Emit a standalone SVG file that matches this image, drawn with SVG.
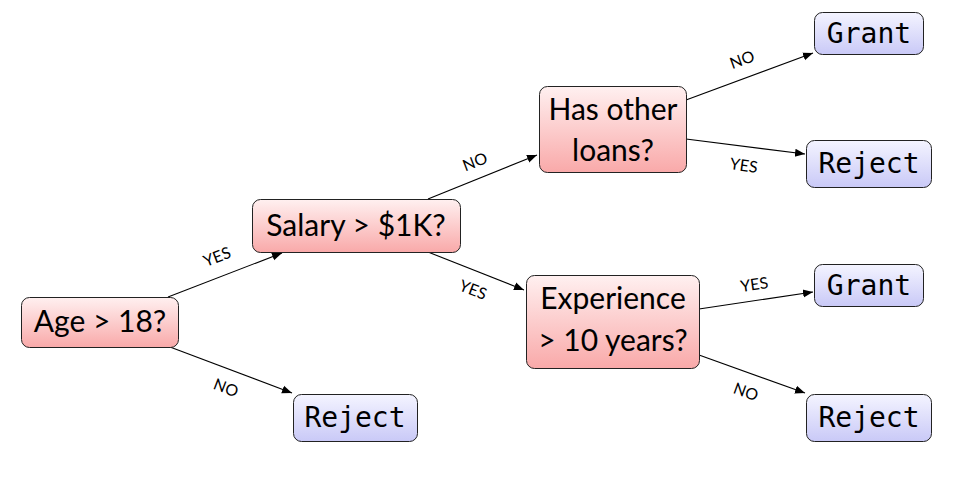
<svg xmlns="http://www.w3.org/2000/svg" width="970" height="480" viewBox="0 0 970 480">
<defs>
<linearGradient id="gRed" x1="0" y1="0" x2="0" y2="1"><stop offset="0" stop-color="#fff0f0"/><stop offset="1" stop-color="#f9a9a9"/></linearGradient>
<linearGradient id="gBlue" x1="0" y1="0" x2="0" y2="1"><stop offset="0" stop-color="#f4f4ff"/><stop offset="1" stop-color="#c9c9f7"/></linearGradient>
<marker id="arr" viewBox="0 0 10 10" refX="10" refY="5" markerWidth="10" markerHeight="10" markerUnits="userSpaceOnUse" orient="auto"><path d="M0,1 L10,5 L0,9 z" fill="#000"/></marker>
<style>
.q rect{fill:url(#gRed);stroke:#222;stroke-width:1}
.a rect{fill:url(#gBlue);stroke:#222;stroke-width:1}
.q text{font-family:Lato,"Open Sans",sans-serif;font-size:30px;fill:#000;text-anchor:middle}
.a text{font-family:"DejaVu Sans Mono","Liberation Mono",monospace;font-size:28px;fill:#000;text-anchor:middle}
#edges line{stroke:#000;stroke-width:1.1;marker-end:url(#arr)}
#edges text{font-family:Lato,"Open Sans",sans-serif;font-size:16px;fill:#000;text-anchor:middle}
</style>
</defs>
<rect width="970" height="480" fill="#fff"/>
<g id="edges">
<line x1="168" y1="297" x2="282" y2="253"/>
<line x1="170" y1="347" x2="292" y2="393"/>
<line x1="428" y1="199" x2="537" y2="155"/>
<line x1="428" y1="252" x2="524" y2="290"/>
<line x1="686" y1="100" x2="813" y2="53"/>
<line x1="686" y1="139" x2="805" y2="154"/>
<line x1="699" y1="309" x2="813" y2="292"/>
<line x1="699" y1="355" x2="805" y2="393"/>
<text transform="translate(219,262) rotate(-21)">YES</text>
<text transform="translate(224,393) rotate(21)">NO</text>
<text transform="translate(477,167) rotate(-21)">NO</text>
<text transform="translate(471,295) rotate(21)">YES</text>
<text transform="translate(744,65) rotate(-20)">NO</text>
<text transform="translate(743,171) rotate(8)">YES</text>
<text transform="translate(755,290) rotate(-8)">YES</text>
<text transform="translate(744,397) rotate(20)">NO</text>
</g>
<g id="n-age" class="q"><rect x="21.5" y="297.5" width="157" height="50" rx="8"/><text x="100" y="332">Age &gt; 18?</text></g>
<g id="n-salary" class="q"><rect x="252.5" y="199.5" width="208" height="53" rx="8"/><text x="356" y="236">Salary &gt; $1K?</text></g>
<g id="n-loans" class="q"><rect x="539.5" y="86.5" width="147" height="86" rx="8"/><text x="613" y="120">Has other</text><text x="613" y="161">loans?</text></g>
<g id="n-exp" class="q"><rect x="526.5" y="275.5" width="173" height="93" rx="8"/><text x="613" y="309">Experience</text><text x="613" y="351">&gt; 10 years?</text></g>
<g id="n-reject1" class="a"><rect x="293.5" y="394.5" width="124" height="47" rx="8"/><text x="355" y="427">Reject</text></g>
<g id="n-grant1" class="a"><rect x="814.5" y="12.5" width="109" height="42" rx="8"/><text x="869" y="43">Grant</text></g>
<g id="n-reject2" class="a"><rect x="806.5" y="140.5" width="125" height="47" rx="8"/><text x="869" y="173">Reject</text></g>
<g id="n-grant2" class="a"><rect x="814.5" y="264.5" width="109" height="42" rx="8"/><text x="869" y="295">Grant</text></g>
<g id="n-reject3" class="a"><rect x="806.5" y="394.5" width="125" height="47" rx="8"/><text x="869" y="427">Reject</text></g>
</svg>
